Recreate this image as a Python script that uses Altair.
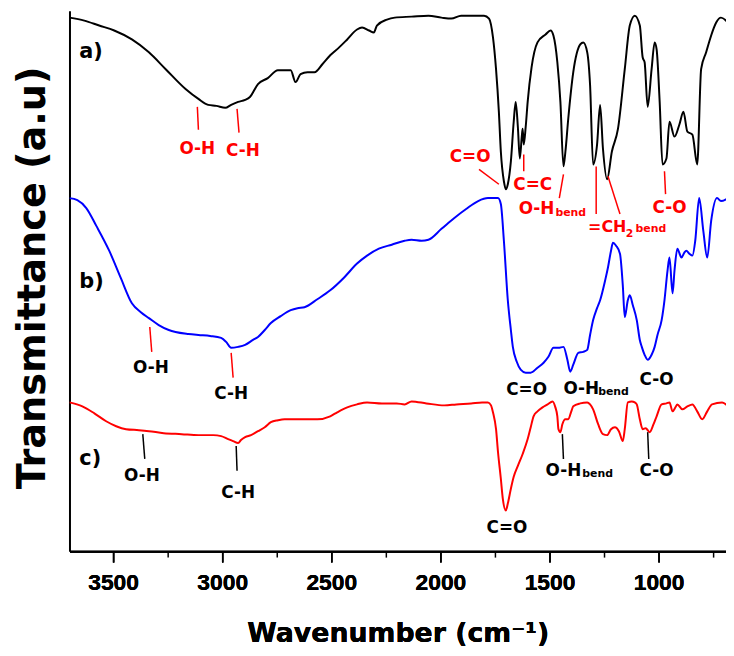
import altair as alt
import pandas as pd

# ---- spectrum a (black) ----
a_wn = [3700,3632,3564,3495,3414,3336,3259,3168,3109,3064,3027,2986,2959,2927,2895,2873,2836,2791,2745,2714,
        2686,2664,2641,2609,2577,2541,2505,2464,2427,2382,2359,2327,2305,2291,2245,2209,2132,2055,1995,1950,
        1905,1845,1800,1777,1759,1745,1732,1723,1709,1700,1691,1677,1664,1655,1645,1636,1627,1623,1618,1609,
        1600,1582,1555,1518,1495,1482,1464,1450,1436,1427,1414,1391,1359,1345,1327,1314,1300,1282,1268,1255,
        1236,1214,1186,1155,1132,1109,1086,1073,1064,1050,1032,1018,1009,995,982,964,950,927,905,886,
        868,845,823,805,782,759,736,714,682]
a_y = [538,535,530,525,516,503,486,466,456,450,449,447,450,453,455,458,471,477,485,485,
       485,473,481,483,483,491,500,508,516,526,528,525,523,530,536,538,539,540,538,537,
       540,540,540,537,518,486,443,403,373,365,370,393,433,453,428,396,418,426,410,428,
       453,488,513,521,525,520,493,453,388,403,436,483,511,513,503,470,390,410,450,406,
       375,403,426,486,530,540,530,498,493,448,486,513,506,453,390,396,433,418,430,443,
       423,420,390,486,503,520,533,538,533]

# ---- spectrum b (blue) ----
b_wn = [3700,3664,3623,3577,3518,3464,3414,3373,3336,3291,3245,3214,3155,3109,3055,3005,2982,2959,2927,2895,
        2859,2836,2805,2777,2732,2686,2655,2623,2564,2505,2441,2382,2336,2282,2223,2164,2132,2086,2055,1995,
        1936,1882,1827,1782,1736,1723,1709,1691,1677,1668,1650,1632,1609,1586,1555,1527,1505,1482,1459,1436,
        1418,1405,1391,1368,1345,1327,1314,1300,1282,1268,1245,1232,1218,1209,1195,1177,1164,1155,1141,1132,
        1118,1100,1086,1077,1064,1050,1032,1018,1005,986,973,959,950,936,927,914,895,882,873,859,
        845,832,814,795,777,759,732,714,682]
b_y = [356,354,346,328,303,275,250,241,235,228,223,221,219,218,217,215,211,205,206,208,
       213,216,223,230,237,243,245,246,254,263,276,290,298,305,309,313,314,313,314,325,
       336,345,353,356,356,350,313,253,223,206,191,183,180,180,185,190,196,205,205,206,
       193,181,188,200,201,203,218,233,245,253,273,286,303,311,308,300,268,236,253,258,
       248,233,213,206,198,193,198,206,218,233,253,283,296,260,283,305,296,301,303,300,
       298,313,356,323,296,333,356,353,356]

# ---- spectrum c (red) ----
c_wn = [3700,3641,3586,3532,3486,3441,3382,3336,3268,3186,3109,3041,3005,2973,2950,2927,2914,2895,2868,2836,
        2805,2777,2745,2714,2655,2564,2505,2473,2427,2382,2336,2268,2200,2164,2132,2064,1982,1927,1859,1809,
        1782,1768,1759,1745,1736,1723,1714,1700,1691,1677,1664,1645,1623,1600,1586,1573,1555,1532,1509,1486,
        1473,1464,1459,1450,1441,1427,1414,1400,1391,1359,1327,1314,1300,1277,1255,1236,1218,1200,1182,1164,
        1155,1141,1123,1109,1100,1086,1073,1059,1041,1023,1009,986,964,950,936,923,914,891,868,845,
        823,800,777,755,709,682]
c_y = [150,146,139,131,126,123,122,121,119,118,117,117,116,113,111,109,112,115,117,121,
       125,130,132,133,133,133,136,140,145,148,150,149,149,148,151,149,147,148,149,150,
       150,147,140,123,100,73,53,41,48,63,75,86,98,113,125,136,141,145,148,151,
       145,136,123,120,128,133,133,141,146,149,150,148,143,128,118,117,123,125,121,111,
       123,150,151,150,148,133,123,124,120,128,136,148,149,150,141,145,148,143,146,148,
       141,133,141,148,150,146]

series_names = ["a", "b", "c"]
series_colors = ["#000000", "#0000ff", "#ff0000"]

# ---- centred peak labels ----
lab_text = ["O-H", "C-H", "C=O", "C=C", "C-O",
            "O-H", "C-H", "C=O", "C-O",
            "O-H", "C-H", "C=O", "C-O"]
lab_wn = [3114, 2905, 1864, 1577, 950,
          3327, 2959, 1605, 1009,
          3368, 2927, 1695, 1009]
lab_y = [405, 403, 397, 369, 346,
         185, 158, 162, 173,
         76, 59, 23, 81]
lab_color = ["#ff0000"] * 5 + ["#000000"] * 8

# ---- left-anchored pieces (panel letters, labels with subscripts) ----
pc_text = ["a)", "b)", "c)", "O-H", "bend", "=CH", "2", "bend", "O-H", "bend", "O-H", "bend"]
pc_wn = [3655, 3655, 3655, 1641, 1473, 1323, 1150, 1106, 1436, 1277, 1518, 1350]
pc_y = [503, 271, 93, 345, 341, 327, 320, 325, 163, 160, 81, 78]
pc_color = ["#000000"] * 3 + ["#ff0000"] * 5 + ["#000000"] * 4
pc_size = [21, 21, 21, 17, 11, 16, 11, 11, 17, 11, 17, 11]

# ---- pointer lines ----
rule_wn = [3114, 2932, 1823, 1618, 1436, 1286, 1232, 973, 3332, 2959, 3364, 2936, 1441, 1050]
rule_y = [448, 446, 385, 400, 380, 388, 378, 383, 226, 200, 118, 106, 118, 120]
rule_wn2 = [3109, 2923, 1732, 1618, 1455, 1286, 1177, 968, 3323, 2950, 3355, 2932, 1436, 1045]
rule_y2 = [425, 422, 370, 383, 356, 340, 340, 360, 201, 175, 93, 81, 93, 93]
rule_color = ["#ff0000"] * 10 + ["#000000"] * 4

major_ticks = [3500, 3000, 2500, 2000, 1500, 1000]
minor_ticks = [3250, 2750, 2250, 1750, 1250, 750]

# ---------------------------------------------------------------
assert len(a_wn) == len(a_y) and len(b_wn) == len(b_y) and len(c_wn) == len(c_y)

curves = pd.DataFrame({
    "wn": a_wn + b_wn + c_wn,
    "y": a_y + b_y + c_y,
    "s": ["a"] * len(a_wn) + ["b"] * len(b_wn) + ["c"] * len(c_wn),
})
labels = pd.DataFrame({"t": lab_text, "wn": lab_wn, "y": lab_y, "col": lab_color})
pieces = pd.DataFrame({"t": pc_text, "wn": pc_wn, "y": pc_y, "col": pc_color, "fs": pc_size})
rules = pd.DataFrame({"wn": rule_wn, "y": rule_y, "wn2": rule_wn2, "y2": rule_y2, "col": rule_color})

xscale = alt.Scale(domain=[691, 3700], reverse=True, nice=False, zero=False)
yscale = alt.Scale(domain=[0, 545], nice=False, zero=False)

xaxis = alt.Axis(values=major_ticks, format="d", title="Wavenumber (cm⁻¹)", grid=False, orient="bottom",
                 tickSize=11, tickWidth=1.5, tickColor="black", domainColor="black", domainWidth=2,
                 labelFont="Liberation Sans", labelFontSize=23, labelFontWeight="bold", labelColor="black",
                 labelPadding=10, labelFlush=False,
                 titleFont="DejaVu Sans", titleFontSize=27, titleFontWeight="bold", titleColor="black",
                 titlePadding=26)
xminor = alt.Axis(values=minor_ticks, labels=False, title="", grid=False, orient="bottom", domain=False,
                  tickSize=6, tickWidth=1.5, tickColor="black")
yaxis = alt.Axis(labels=False, ticks=False, grid=False, domainColor="black", domainWidth=2,
                 title="Transmittance (a.u)", titleFont="DejaVu Sans", titleFontSize=38.5,
                 titleFontWeight="bold", titleColor="black", titleAngle=270, titleAlign="center",
                 titleBaseline="alphabetic", titleX=-25.5, titleY=269)

X = alt.X("wn:Q", scale=xscale, axis=xaxis)
Y = alt.Y("y:Q", scale=yscale, axis=yaxis)

lines = alt.Chart(curves).mark_line(strokeWidth=2, interpolate="monotone", clip=True).encode(
    x=X, y=Y,
    color=alt.Color("s:N", scale=alt.Scale(domain=series_names, range=series_colors), legend=None),
)

pointer = alt.Chart(rules).mark_rule(strokeWidth=1.5).encode(
    x=X, y=Y, x2="wn2:Q", y2="y2:Q", color=alt.Color("col:N", scale=None)
)

centred = alt.Chart(labels).mark_text(font="DejaVu Sans", fontWeight="bold", fontSize=17,
                                      align="center", baseline="middle").encode(
    x=X, y=Y, text="t:N", color=alt.Color("col:N", scale=None)
)

left = alt.Chart(pieces).mark_text(font="DejaVu Sans", fontWeight="bold",
                                   align="left", baseline="middle").encode(
    x=alt.X("wn:Q", scale=xscale, axis=xminor), y=Y, text="t:N",
    color=alt.Color("col:N", scale=None), size=alt.Size("fs:Q", scale=None)
)

chart = alt.layer(lines, pointer, centred, left).resolve_axis(x="independent").properties(
    width=662, height=545,
    autosize=alt.AutoSizeParams(type="none"),
    padding={"left": 62, "top": 0, "right": 0, "bottom": 101},
    background="white",
).configure_view(stroke="transparent")

chart.save("out.html", embed_options={"renderer": "svg", "actions": False})
